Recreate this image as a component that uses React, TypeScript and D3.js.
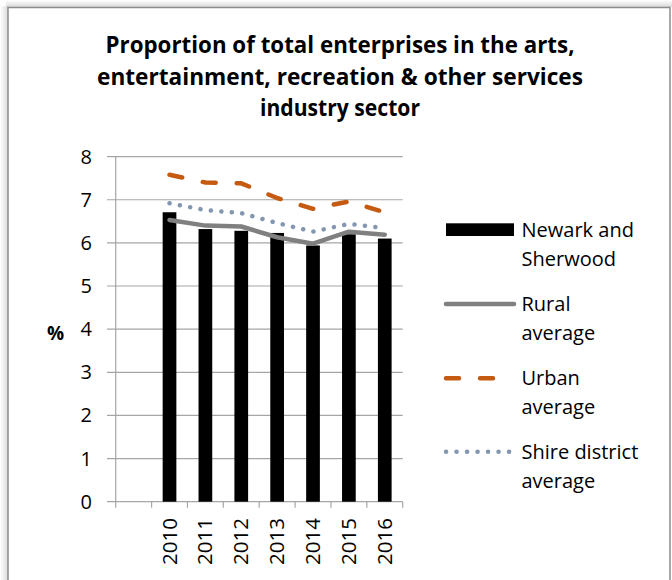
import React from "react";
import * as d3 from "d3";

const categories = ["", "2010", "2011", "2012", "2013", "2014", "2015", "2016"];
const years = ["2010", "2011", "2012", "2013", "2014", "2015", "2016"];
const newarkValues = [6.71, 6.32, 6.28, 6.23, 5.94, 6.2, 6.1];
const ruralValues = [6.53, 6.4, 6.38, 6.13, 5.98, 6.26, 6.19];
const urbanValues = [7.58, 7.4, 7.38, 7.04, 6.79, 6.96, 6.71];
const shireValues = [6.92, 6.76, 6.69, 6.46, 6.26, 6.44, 6.34];
const yTicks = [0, 1, 2, 3, 4, 5, 6, 7, 8];
const titleLines = [
  "Proportion of total enterprises in the arts,",
  "entertainment, recreation & other services",
  "industry sector",
];
const titleWidths = [469, 486, 160];

const W = 672;
const H = 580;
const FONT = "'Open Sans', sans-serif";

export default function App() {
  const x = d3.scaleBand<string>().domain(categories).range([115.7, 402.7]).padding(0);
  const y = d3.scaleLinear().domain([0, 8]).range([501.7, 156.6]);
  const bw = 13.7;
  const cx = (c: string) => (x(c) as number) + x.bandwidth() / 2;
  const line = d3
    .line<number>()
    .x((_, i) => cx(years[i]))
    .y((v) => y(v));

  const boundaries = categories.map((c) => x(c) as number).concat([402.7]);

  const series = [
    { name: ["Rural", "average"], stroke: "#808080", dash: undefined as string | undefined, vals: ruralValues, ly: 304 },
    { name: ["Urban", "average"], stroke: "#C55A11", dash: "13 21", vals: urbanValues, ly: 378.3 },
    { name: ["Shire district", "average"], stroke: "#8497B0", dash: "0.1 10.4", vals: shireValues, ly: 451.7 },
  ];

  return (
    <svg
      width={W}
      height={H}
      style={{ position: "absolute", left: 0, top: 0 }}
      fontFamily={FONT}
    >
      <defs>
        <linearGradient id="shL" x1="0" x2="1" y1="0" y2="0">
          <stop offset="0" stopColor="#ffffff" />
          <stop offset="1" stopColor="#d9d9d9" />
        </linearGradient>
        <linearGradient id="shT" x1="0" x2="0" y1="0" y2="1">
          <stop offset="0" stopColor="#ffffff" />
          <stop offset="1" stopColor="#d9d9d9" />
        </linearGradient>
      </defs>
      <rect x={0} y={0} width={W} height={H} fill="#fff" />
      <rect x={0} y={6} width={8} height={H} fill="url(#shL)" />
      <rect x={6} y={0} width={W} height={7} fill="url(#shT)" />
      <rect x={8} y={7.5} width={662} height={H + 10} fill="#fff" stroke="#8c8c8c" strokeWidth={1.5} />

      {titleLines.map((t, i) => (
        <text
          key={i}
          x={340}
          y={53 + i * 31.7}
          textAnchor="middle"
          fontWeight="bold"
          fontSize={23}
          textLength={titleWidths[i]}
          lengthAdjust="spacingAndGlyphs"
          fill="#000"
        >
          {t}
        </text>
      ))}

      {/* gridlines */}
      {yTicks.map((t) => (
        <line key={t} x1={107} x2={402.7} y1={y(t)} y2={y(t)} stroke="#a6a6a6" strokeWidth={1.2} />
      ))}
      <line x1={115.7} x2={115.7} y1={y(8)} y2={y(0)} stroke="#a6a6a6" strokeWidth={1.2} />
      {boundaries.map((b, i) => (
        <line key={i} x1={b} x2={b} y1={y(0)} y2={y(0) + 6} stroke="#a6a6a6" strokeWidth={1.2} />
      ))}

      {/* y tick labels */}
      {yTicks.map((t) => (
        <text key={t} x={92} y={y(t) + 7} textAnchor="end" fontSize={20} fill="#000">
          {t}
        </text>
      ))}
      <text x={55.5} y={340} textAnchor="middle" fontSize={19} fontWeight="bold" fill="#000">
        %
      </text>

      {/* x tick labels */}
      {years.map((yr) => (
        <text
          key={yr}
          transform={`translate(${cx(yr) + 7},518) rotate(-90)`}
          textAnchor="end"
          fontSize={20.5}
          fill="#000"
        >
          {yr}
        </text>
      ))}

      {/* bars */}
      {years.map((yr, i) => (
        <rect
          key={yr}
          x={cx(yr) - bw / 2}
          y={y(newarkValues[i])}
          width={bw}
          height={y(0) - y(newarkValues[i])}
          fill="#000"
        />
      ))}

      {/* lines */}
      {series.map((s) => (
        <path
          key={s.name[0]}
          d={line(s.vals) as string}
          fill="none"
          stroke={s.stroke}
          strokeWidth={4.5}
          strokeDasharray={s.dash}
          strokeLinecap="round"
          strokeLinejoin="round"
        />
      ))}

      {/* legend */}
      <rect x={446} y={223.3} width={68} height={12.7} fill="#000" />
      <text x={521.5} y={237} fontSize={20} fill="#000">Newark and</text>
      <text x={521.5} y={266} fontSize={20} fill="#000">Sherwood</text>
      {series.map((s) => (
        <g key={s.name[0]}>
          <line
            x1={446}
            x2={514}
            y1={s.ly}
            y2={s.ly}
            stroke={s.stroke}
            strokeWidth={4.5}
            strokeDasharray={s.dash}
            strokeLinecap="round"
          />
          <text x={521.5} y={s.ly + 7} fontSize={20} fill="#000">{s.name[0]}</text>
          <text x={521.5} y={s.ly + 36} fontSize={20} fill="#000">{s.name[1]}</text>
        </g>
      ))}
    </svg>
  );
}
